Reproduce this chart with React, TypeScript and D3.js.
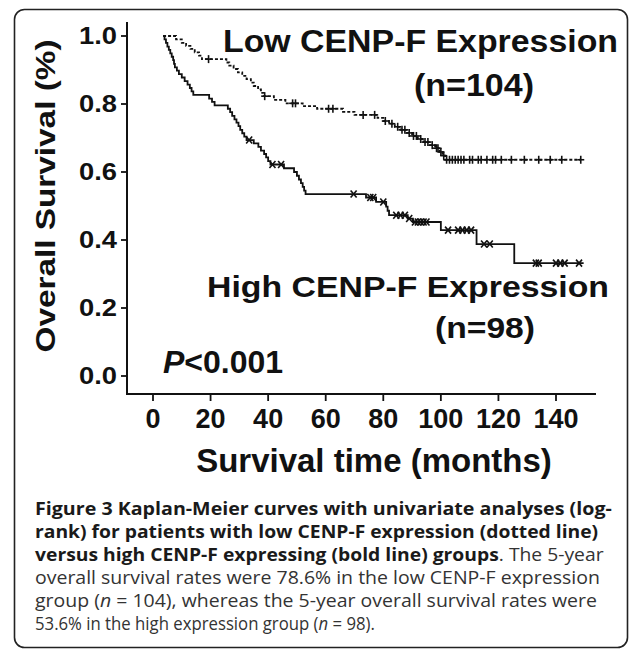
import React, { useLayoutEffect, useRef } from "react";
import * as d3 from "d3";

// ---- data ----
const xTicks = [0, 20, 40, 60, 80, 100, 120, 140];
const yTicks = [0, 0.2, 0.4, 0.6, 0.8, 1.0];

// Low CENP-F expression (dotted line): [time (months), survival]
const lowSteps: [number, number][] = [
  [3.5, 1.0], [8, 0.99], [10, 0.98], [11.5, 0.971], [13, 0.962], [14.5, 0.952], [16, 0.942], [17, 0.932],
  [25.5, 0.922], [26.5, 0.913], [28, 0.903], [29.5, 0.893], [31, 0.883], [32.5, 0.873], [34, 0.863],
  [35, 0.853], [36.5, 0.843], [37.5, 0.833], [38.5, 0.823], [42, 0.812], [46, 0.802], [52, 0.794],
  [57, 0.786], [66, 0.777], [70, 0.768], [78, 0.759], [80, 0.75], [82, 0.742], [84, 0.733], [86, 0.724],
  [88, 0.715], [90, 0.706], [92, 0.697], [94, 0.688], [96, 0.679], [98, 0.67], [99.5, 0.659],
  [100.5, 0.648], [101.5, 0.636],
];
const lowEnd = 148.6;
const lowCensors = [
  19.3, 38.8, 48.5, 49.5, 61, 62.5, 73, 77, 80.7, 83, 85, 86.5, 87.5, 89, 90.5, 91.5, 93, 94.5, 95.5,
  97, 98.5, 99, 100, 101, 102, 103, 104, 105, 106, 107, 108, 110, 111, 113, 114, 116, 118, 119, 121,
  124.5, 129, 134, 138, 142, 148.6,
];

// High CENP-F expression (bold line)
const highSteps: [number, number][] = [
  [3.5, 1.0], [4, 0.99], [4.5, 0.98], [5, 0.969], [5.5, 0.959], [6, 0.949], [6.5, 0.939], [7, 0.929],
  [7.3, 0.918], [7.6, 0.908], [8.3, 0.898], [9, 0.888], [10, 0.878], [11, 0.867], [12, 0.857],
  [12.8, 0.847], [13.4, 0.837], [14, 0.827], [19.5, 0.816], [20.5, 0.806], [21.4, 0.796], [26, 0.786],
  [26.8, 0.776], [27.5, 0.765], [28.3, 0.755], [29, 0.745], [29.7, 0.735], [30.3, 0.724], [31, 0.714],
  [31.7, 0.704], [32.5, 0.694], [35, 0.684], [36.6, 0.674], [37.5, 0.663], [38.6, 0.653], [39.3, 0.643],
  [40, 0.632], [40.8, 0.622], [45.5, 0.611], [49, 0.6], [50, 0.589], [50.7, 0.578], [51.4, 0.567],
  [52, 0.556], [52.5, 0.545], [53, 0.535], [74, 0.525], [77.5, 0.512], [81, 0.498], [81.5, 0.486],
  [82, 0.473], [88.5, 0.463], [90.3, 0.453], [100, 0.429], [112.4, 0.388], [125.5, 0.332],
];
const highEnd = 149.6;
const highCensors = [
  33.4, 41.5, 44.5, 69.7, 75.5, 76.5, 80, 84.5, 86, 87.5, 89, 91, 92, 93, 94, 95, 102.5, 106, 107.5,
  109, 110.5, 115, 117, 133, 134, 140, 141.5, 143, 148,
];

const captionBold = [
  "Figure 3 Kaplan-Meier curves with univariate analyses (log-",
  "rank) for patients with low CENP-F expression (dotted line)",
  "versus high CENP-F expressing (bold line) groups",
];

// ---- layout ----
const W = 633;
const H = 653;
const x = d3.scaleLinear().domain([0, 140]).range([153, 556]);
const y = d3.scaleLinear().domain([0, 1]).range([376, 36]);
const AXIS_X = 127;
const AXIS_Y = 394;
const FONT = "'Liberation Sans', Arial, Helvetica, sans-serif";
const CAP_FONT = "'Open Sans', 'Noto Sans', sans-serif";

function survAt(steps: [number, number][], t: number) {
  let s = steps[0][1];
  for (const [ti, si] of steps) {
    if (ti <= t) s = si;
    else break;
  }
  return s;
}

const stepLine = d3
  .line<[number, number]>()
  .x((d) => x(d[0]))
  .y((d) => y(d[1]))
  .curve(d3.curveStepAfter);

// text stretched horizontally to a target width
function FitText(props: { x: number; y: number; width: number; children: React.ReactNode; [k: string]: any }) {
  const { x: tx, y: ty, width, children, ...rest } = props;
  const ref = useRef<SVGTextElement>(null);
  useLayoutEffect(() => {
    const fit = () => {
      const el = ref.current;
      if (!el) return;
      const len = el.getComputedTextLength();
      if (len > 0) el.setAttribute("transform", `translate(${tx},${ty}) scale(${width / len},1)`);
    };
    fit();
    if ((document as any).fonts?.ready) (document as any).fonts.ready.then(fit);
  });
  return (
    <text ref={ref} x={0} y={0} transform={`translate(${tx},${ty})`} {...rest}>
      {children}
    </text>
  );
}

export default function App() {
  const lowPts: [number, number][] = [...lowSteps, [lowEnd, lowSteps[lowSteps.length - 1][1]]];
  const highPts: [number, number][] = [...highSteps, [highEnd, highSteps[highSteps.length - 1][1]]];
  return (
    <div style={{ position: "absolute", left: 0, top: 0 }}>
      <svg width={W} height={H} style={{ display: "block" }}>
        <rect x={0} y={0} width={W} height={H} fill="#fff" />
        <rect x={14.5} y={9.5} width={613} height={638} rx={10} fill="none" stroke="#222" strokeWidth={1.6} />

        {/* axes */}
        <line x1={AXIS_X} y1={22} x2={AXIS_X} y2={AXIS_Y + 1} stroke="#111" strokeWidth={2} />
        <line x1={AXIS_X - 1} y1={AXIS_Y} x2={596} y2={AXIS_Y} stroke="#111" strokeWidth={2} />
        {yTicks.map((t) => (
          <g key={"y" + t}>
            <line x1={AXIS_X - 6} x2={AXIS_X} y1={y(t)} y2={y(t)} stroke="#111" strokeWidth={1.8} />
            <text
              x={117}
              y={y(t) + 8}
              textAnchor="end"
              fontFamily={FONT}
              fontWeight="bold"
              fontSize={23}
              fill="#111"
              textLength={38}
              lengthAdjust="spacingAndGlyphs"
            >
              {t.toFixed(1)}
            </text>
          </g>
        ))}
        {xTicks.map((t) => (
          <g key={"x" + t}>
            <line x1={x(t)} x2={x(t)} y1={AXIS_Y} y2={AXIS_Y + 7} stroke="#111" strokeWidth={1.8} />
            <text
              x={x(t)}
              y={428}
              textAnchor="middle"
              fontFamily={FONT}
              fontWeight="bold"
              fontSize={27}
              fill="#111"
            >
              {t}
            </text>
          </g>
        ))}

        {/* axis titles */}
        <text
          transform="translate(55,196) rotate(-90)"
          textAnchor="middle"
          fontFamily={FONT}
          fontWeight="bold"
          fontSize={27}
          fill="#111"
          textLength={313}
          lengthAdjust="spacingAndGlyphs"
        >
          Overall Survival (%)
        </text>
        <text x={374} y={472} textAnchor="middle" fontFamily={FONT} fontWeight="bold" fontSize={33} fill="#111">
          Survival time (months)
        </text>

        {/* curves */}
        <path d={stepLine(lowPts) ?? ""} fill="none" stroke="#111" strokeWidth={1.8} strokeDasharray="3,2" />
        <path d={stepLine(highPts) ?? ""} fill="none" stroke="#111" strokeWidth={1.8} />
        {lowCensors.map((t, i) => {
          const cx = x(t);
          const cy = y(survAt(lowSteps, t));
          return (
            <g key={"lc" + i} stroke="#111" strokeWidth={1.6}>
              <line x1={cx} x2={cx} y1={cy - 4} y2={cy + 4} />
              <line x1={cx - 3.5} x2={cx + 3.5} y1={cy} y2={cy} />
            </g>
          );
        })}
        {highCensors.map((t, i) => {
          const cx = x(t);
          const cy = y(survAt(highSteps, t));
          return (
            <g key={"hc" + i} stroke="#111" strokeWidth={1.6}>
              <line x1={cx - 3} x2={cx + 3} y1={cy - 3.5} y2={cy + 3.5} />
              <line x1={cx - 3} x2={cx + 3} y1={cy + 3.5} y2={cy - 3.5} />
            </g>
          );
        })}

        {/* annotations */}
        <text x={223} y={52} fontFamily={FONT} fontWeight="bold" fontSize={31} fill="#111" textLength={395} lengthAdjust="spacingAndGlyphs">
          Low CENP-F Expression
        </text>
        <text x={414} y={96} fontFamily={FONT} fontWeight="bold" fontSize={31} fill="#111" textLength={120} lengthAdjust="spacingAndGlyphs">
          (n=104)
        </text>
        <text x={207} y={297} fontFamily={FONT} fontWeight="bold" fontSize={30} fill="#111" textLength={402} lengthAdjust="spacingAndGlyphs">
          High CENP-F Expression
        </text>
        <text x={435} y={338} fontFamily={FONT} fontWeight="bold" fontSize={30} fill="#111" textLength={100} lengthAdjust="spacingAndGlyphs">
          (n=98)
        </text>
        <text x={163} y={373} fontFamily={FONT} fontWeight="bold" fontSize={32} fill="#111">
          <tspan fontStyle="italic">P</tspan>
          <tspan>{"<0.001"}</tspan>
        </text>

        {/* caption */}
        <g fontFamily={CAP_FONT} fontSize={18}>
          <FitText x={35} y={515} width={577} fontWeight="bold" fill="#1a1a1a">
            {captionBold[0]}
          </FitText>
          <FitText x={35} y={538} width={563} fontWeight="bold" fill="#1a1a1a">
            {captionBold[1]}
          </FitText>
          <FitText x={35} y={561} width={568} fill="#333">
            <tspan fontWeight="bold" fill="#1a1a1a">{captionBold[2]}</tspan>
            <tspan>. The 5-year</tspan>
          </FitText>
          <FitText x={35} y={584} width={565} fill="#333">
            overall survival rates were 78.6% in the low CENP-F expression
          </FitText>
          <FitText x={35} y={607} width={562} fill="#333">
            <tspan>group (</tspan>
            <tspan fontStyle="italic">n</tspan>
            <tspan> = 104), whereas the 5-year overall survival rates were</tspan>
          </FitText>
          <FitText x={35} y={630} width={340} fill="#333">
            <tspan>53.6% in the high expression group (</tspan>
            <tspan fontStyle="italic">n</tspan>
            <tspan> = 98).</tspan>
          </FitText>
        </g>
      </svg>
    </div>
  );
}
